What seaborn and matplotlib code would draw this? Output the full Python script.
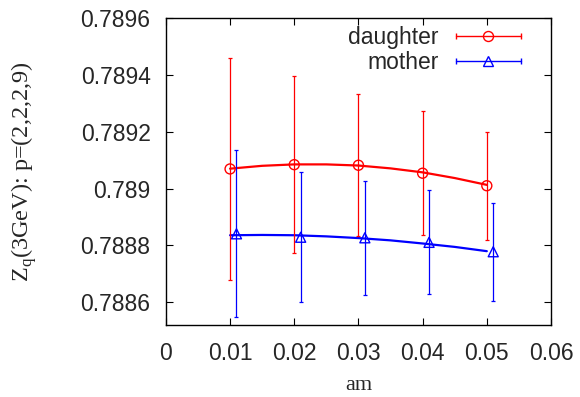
import numpy as np
import pandas as pd
import matplotlib
matplotlib.use("Agg")
import matplotlib.pyplot as plt
import seaborn as sns
from matplotlib.lines import Line2D
from matplotlib.legend_handler import HandlerLine2D, HandlerTuple

# ---- data ----
am_d = [0.010, 0.020, 0.030, 0.040, 0.050]
z_d = [0.789069, 0.789084, 0.789082, 0.789054, 0.789010]
err_d = [0.000391, 0.000311, 0.000250, 0.000217, 0.000190]

am_m = [0.011, 0.021, 0.031, 0.041, 0.051]
z_m = [0.788841, 0.788829, 0.788827, 0.788811, 0.788778]
err_m = [0.000293, 0.000228, 0.000200, 0.000183, 0.000173]

fit_x = [0.010, 0.015, 0.020, 0.025, 0.030, 0.035, 0.040, 0.045, 0.050]
fit_d = [0.789070, 0.789080, 0.789085, 0.789085, 0.789081, 0.789071, 0.789057, 0.789037, 0.789013]
fit_m = [0.788836, 0.788837, 0.788836, 0.788832, 0.788826, 0.788818, 0.788807, 0.788795, 0.788780]

xticks = [0, 0.01, 0.02, 0.03, 0.04, 0.05, 0.06]
xticklabels = ["0", "0.01", "0.02", "0.03", "0.04", "0.05", "0.06"]
yticks = [0.7886, 0.7888, 0.789, 0.7892, 0.7894, 0.7896]
yticklabels = ["0.7886", "0.7888", "0.789", "0.7892", "0.7894", "0.7896"]

RED = "#ff0000"
BLUE = "#0000ff"
FS = 16.5

sns.set_theme(style="white")
plt.rcParams["font.family"] = ["Liberation Sans", "DejaVu Sans"]
plt.rcParams["mathtext.fontset"] = "custom"
plt.rcParams["mathtext.rm"] = "Liberation Serif"

fig = plt.figure(figsize=(5.8, 3.97), dpi=100)
ax = fig.add_axes([0.286, 0.181, 0.664, 0.774])

fit_df = pd.DataFrame({"am": fit_x + fit_x,
                       "Z": fit_d + fit_m,
                       "series": ["daughter"] * len(fit_x) + ["mother"] * len(fit_x)})
sns.lineplot(data=fit_df, x="am", y="Z", hue="series",
             palette={"daughter": RED, "mother": BLUE},
             linewidth=1.6, legend=False, ax=ax, sort=True)

ax.errorbar(am_d, z_d, yerr=err_d, fmt="none", ecolor=RED, elinewidth=0.9,
            capsize=1.7, capthick=0.9, zorder=3)
ax.errorbar(am_m, z_m, yerr=err_m, fmt="none", ecolor=BLUE, elinewidth=0.9,
            capsize=1.7, capthick=0.9, zorder=3)
pts = pd.DataFrame({"am": am_d + am_m, "Z": z_d + z_m,
                    "series": ["daughter"] * 5 + ["mother"] * 5})
sns.scatterplot(data=pts[pts.series == "daughter"], x="am", y="Z", marker="o",
                s=52, facecolor="none", edgecolor=RED, linewidth=1.0,
                legend=False, ax=ax, zorder=4)
sns.scatterplot(data=pts[pts.series == "mother"], x="am", y="Z", marker="^",
                s=52, facecolor="none", edgecolor=BLUE, linewidth=1.0,
                legend=False, ax=ax, zorder=4)

ax.set_xlim(0, 0.06)
ax.set_ylim(0.78852, 0.7896)
ax.set_xticks(xticks)
ax.set_xticklabels(xticklabels, fontsize=FS)
ax.set_yticks(yticks)
ax.set_yticklabels(yticklabels, fontsize=FS)
ax.tick_params(direction="in", length=5, width=0.8, top=True, right=True,
               bottom=True, left=True, color="black")
ax.tick_params(axis="y", pad=11)
ax.tick_params(axis="x", pad=12)
for s in ax.spines.values():
    s.set_color("black")
    s.set_linewidth(1.0)

ax.set_xlabel("am", fontsize=16, family="Liberation Serif", labelpad=8)
ax.set_ylabel(r"Z$_\mathregular{q}$(3GeV): p=(2,2,2,9)", fontsize=17.5,
              family="Liberation Serif", labelpad=30)

# legend handles: horizontal bar with caps + marker
def make_handle(color, marker):
    bar = Line2D([], [], color=color, lw=1.0, marker="|", markersize=5,
                 markeredgewidth=1.0)
    mk = Line2D([], [], color=color, lw=0, marker=marker, markersize=7.2,
                markerfacecolor="none", markeredgewidth=1.0)
    return (bar, mk), {bar: HandlerLine2D(numpoints=2, marker_pad=0.0),
                       mk: HandlerLine2D(numpoints=1)}

hd, mapd = make_handle(RED, "o")
hm, mapm = make_handle(BLUE, "^")
hmap = {tuple: HandlerTuple(ndivide=1, pad=0)}
hmap.update(mapd)
hmap.update(mapm)
ax.legend([hd, hm], ["daughter", "mother"], handler_map=hmap,
          loc="upper right", bbox_to_anchor=(0.922, 0.972), frameon=False,
          markerfirst=False, fontsize=FS, handlelength=2.84,
          handletextpad=0.74, labelspacing=0.07, borderaxespad=0.0,
          borderpad=0.0)

fig.savefig("out.png", dpi=100)
